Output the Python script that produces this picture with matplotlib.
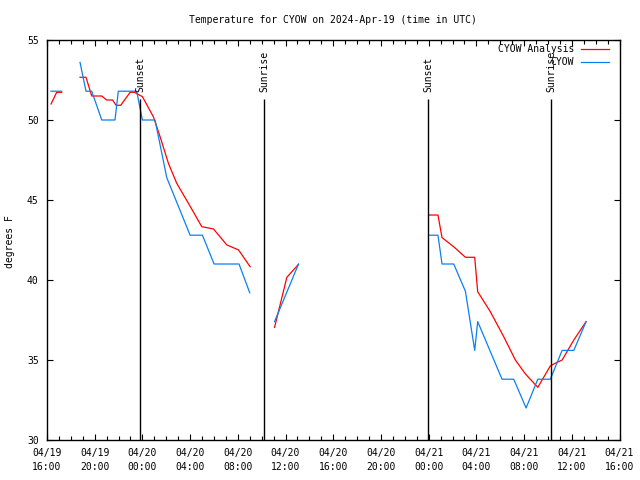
import numpy as np
import matplotlib
matplotlib.use("Agg")
import matplotlib.pyplot as plt

nan = np.nan
# time in hours since 2024-04-19 16:00 UTC
analysis_t = [0.34, 0.81, 1.23, nan,
              2.77, 3.27, 3.75, 4.59, 5.0, 5.5, 5.79, 6.18, 6.97, 7.33, 8.0, 8.92, 9.48,
              10.18, 10.88, 11.86, 12.98, 13.96, 15.08, 16.06, 17.03, nan,
              19.08, 20.11, 21.09, nan,
              32.06, 32.78, 33.12, 34.1, 35.08, 35.86, 36.11, 37.17, 38.29, 39.27, 40.11,
              41.15, 42.2, 42.49, 43.19, 44.17, 45.2]
analysis_v = [51.0, 51.73, 51.73, nan,
              52.67, 52.67, 51.5, 51.5, 51.25, 51.25, 50.92, 50.92, 51.73, 51.73, 51.46, 50.2, 48.96,
              47.29, 46.04, 44.79, 43.33, 43.19, 42.19, 41.88, 40.83, nan,
              37.04, 40.17, 40.98, nan,
              44.06, 44.06, 42.65, 42.08, 41.42, 41.42, 39.27, 38.02, 36.46, 35.0, 34.13,
              33.29, 34.63, 34.75, 35.0, 36.25, 37.4]

obs_t = [0.34, 1.23, nan,
         2.77, 3.27, 3.75, 4.59, 5.7, 5.98, 7.52, 8.0, 9.06, 10.04, 12.0, 13.03, 14.01,
         16.1, 17.0, nan,
         19.08, 21.09, nan,
         32.06, 32.78, 33.12, 34.1, 35.08, 35.86, 36.11, 38.15, 39.13, 40.17, 41.15,
         42.2, 43.19, 44.17, 45.2]
obs_v = [51.8, 51.8, nan,
         53.6, 51.8, 51.8, 50.0, 50.0, 51.8, 51.8, 50.0, 50.0, 46.4, 42.8, 42.8, 41.0,
         41.0, 39.2, nan,
         37.4, 41.0, nan,
         42.8, 42.8, 41.0, 41.0, 39.3, 35.6, 37.4, 33.8, 33.8, 32.0, 33.8,
         33.8, 35.6, 35.6, 37.4]

events_t = [7.80, 18.21, 31.97, 42.29]
events_lbl = ["Sunset", "Sunrise", "Sunset", "Sunrise"]

xtick_pos = [0, 4, 8, 12, 16, 20, 24, 28, 32, 36, 40, 44, 48]
xtick_lbl = ["04/19\n16:00", "04/19\n20:00", "04/20\n00:00", "04/20\n04:00",
             "04/20\n08:00", "04/20\n12:00", "04/20\n16:00", "04/20\n20:00",
             "04/21\n00:00", "04/21\n04:00", "04/21\n08:00", "04/21\n12:00",
             "04/21\n16:00"]
ytick_pos = [30, 35, 40, 45, 50, 55]

FONT = "DejaVu Sans Mono"
FS = 7
RED = "#ff0000"
BLUE = "#0a80f0"

fig = plt.figure(figsize=(6.4, 4.8), dpi=100)
ax = fig.add_axes([47/640, 40/480, 572.5/640, 400/480])

ax.plot(analysis_t, analysis_v, color=RED, lw=0.9)
ax.plot(obs_t, obs_v, color=BLUE, lw=0.9)

for t, lbl in zip(events_t, events_lbl):
    ax.vlines(t, 30, 51.3, color="black", lw=1.0)
    ax.text(t, 51.75, lbl, rotation=90, ha="center", va="bottom",
            fontsize=FS, family=FONT)

ax.set_xlim(0, 48)
ax.set_ylim(30, 55)
ax.set_xticks(xtick_pos)
ax.set_xticklabels(xtick_lbl, fontsize=FS, family=FONT, linespacing=1.5)
ax.set_xticks(np.arange(0, 49, 1), minor=True)
ax.set_yticks(ytick_pos)
ax.set_yticklabels([str(v) for v in ytick_pos], fontsize=FS, family=FONT)
ax.tick_params(axis="both", which="both", direction="in", top=True, right=True, width=0.8)
ax.tick_params(axis="x", which="major", length=4, pad=6)
ax.tick_params(axis="x", which="minor", length=3)
ax.tick_params(axis="y", which="major", length=4, pad=6)
for s in ax.spines.values():
    s.set_linewidth(1.0)

# legend (gnuplot style: right-aligned text, sample to the right)
leg_rows = [("CYOW Analysis", RED, 0.9775), ("CYOW", BLUE, 0.945)]
for lbl, col, yy in leg_rows:
    ax.text(0.9205, yy, lbl, transform=ax.transAxes, ha="right", va="center",
            fontsize=FS, family=FONT)
    ax.plot([0.9328, 0.9817], [yy, yy], transform=ax.transAxes, color=col, lw=0.9)

fig.text(333/640, 1 - 20/480, "Temperature for CYOW on 2024-Apr-19 (time in UTC)",
         ha="center", va="center", fontsize=FS, family=FONT)
fig.text(10/640, 1 - 242/480, "degrees F", rotation=90, ha="center", va="center",
         fontsize=FS, family=FONT)

fig.savefig("out.png", dpi=100)
